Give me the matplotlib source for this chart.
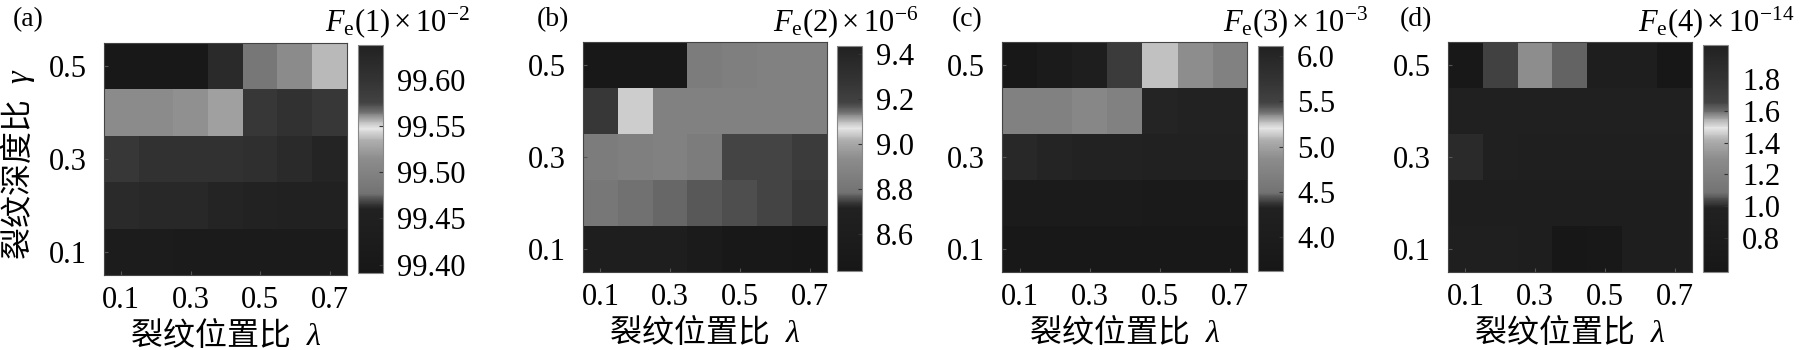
import numpy as np
import matplotlib
matplotlib.use('Agg')
import matplotlib.pyplot as plt
from matplotlib.colors import LinearSegmentedColormap

plt.rcParams['font.family'] = ['Liberation Serif', 'Noto Sans CJK SC']
plt.rcParams['mathtext.fontset'] = 'custom'
plt.rcParams['mathtext.rm'] = 'Liberation Serif'
plt.rcParams['mathtext.it'] = 'Liberation Serif:italic'

# crack position ratio (columns) and crack depth ratio (rows)
lam = [0.1, 0.2, 0.3, 0.4, 0.5, 0.6, 0.7]
gam = [0.1, 0.2, 0.3, 0.4, 0.5]

# rows go from gamma = 0.1 (bottom) to gamma = 0.5 (top)
fe1 = [[99.426, 99.426, 99.425, 99.424, 99.423, 99.422, 99.422],
       [99.618, 99.623, 99.623, 99.629, 99.635, 99.637, 99.637],
       [99.594, 99.603, 99.603, 99.603, 99.608, 99.618, 99.629],
       [99.514, 99.514, 99.517, 99.526, 99.594, 99.603, 99.594],
       [99.405, 99.405, 99.405, 99.618, 99.485, 99.514, 99.537]]
fe2 = [[8.632, 8.632, 8.632, 8.576, 8.492, 8.492, 8.450],
       [8.816, 8.786, 8.778, 8.767, 8.758, 8.751, 8.738],
       [8.846, 8.866, 8.876, 8.846, 8.751, 8.749, 8.742],
       [9.260, 9.047, 8.876, 8.876, 8.876, 8.876, 8.876],
       [8.492, 8.492, 8.492, 8.846, 8.866, 8.876, 8.876]]
fe3 = [[3.769, 3.769, 3.769, 3.769, 3.769, 3.769, 3.769],
       [3.928, 3.928, 3.920, 3.920, 3.910, 3.910, 3.910],
       [5.962, 6.024, 6.086, 6.086, 6.100, 6.105, 6.111],
       [4.722, 4.722, 4.796, 4.722, 6.024, 6.086, 6.086],
       [3.769, 3.977, 4.116, 5.595, 5.121, 4.871, 4.722]]
fe4 = [[0.938, 0.938, 0.868, 0.600, 0.670, 0.868, 0.868],
       [0.868, 0.868, 0.868, 0.868, 0.868, 0.868, 0.868],
       [1.896, 0.981, 0.938, 0.938, 0.938, 0.938, 0.938],
       [0.981, 0.981, 0.981, 0.981, 0.981, 0.981, 0.981],
       [0.670, 1.658, 1.300, 1.609, 0.868, 0.868, 0.600]]

clims = [(99.391, 99.6375), (8.436, 9.437), (3.630, 6.111), (0.59, 2.01)]
cticks = [[99.40, 99.45, 99.50, 99.55, 99.60],
          [8.6, 8.8, 9.0, 9.2, 9.4],
          [4.0, 4.5, 5.0, 5.5, 6.0],
          [0.8, 1.0, 1.2, 1.4, 1.6, 1.8]]
cfmt = ['%.2f', '%.1f', '%.1f', '%.1f']
titles = [r'$F_{\rm e}(1)\times10^{-2}$', r'$F_{\rm e}(2)\times10^{-6}$',
          r'$F_{\rm e}(3)\times10^{-3}$', r'$F_{\rm e}(4)\times10^{-14}$']
letters = ['(a)', '(b)', '(c)', '(d)']
xlab = '裂纹位置比  λ'
ylab = '裂纹深度比  γ'

# gray map: dark at both ends, bright band a bit above the middle
nodes = [(0.00, 0.09), (0.28, 0.13), (0.31, 0.25), (0.35, 0.45), (0.50, 0.55),
         (0.58, 0.68), (0.635, 0.90), (0.67, 0.70), (0.71, 0.42), (0.75, 0.26),
         (0.85, 0.20), (1.00, 0.13)]
cmap = LinearSegmentedColormap.from_list('crack_gray', [(p, (g, g, g)) for p, g in nodes])

W, H = 1809, 350
fig = plt.figure(figsize=(W / 100, H / 100), dpi=100)


def box(x0, x1, y0, y1):
    return [x0 / W, 1 - y1 / H, (x1 - x0) / W, (y1 - y0) / H]


ax_px = [(104, 347, 43, 275), (583, 827, 42, 272), (1002, 1247, 42, 272), (1448, 1692, 42, 272)]
cb_px = [(358, 383, 45, 273), (837, 862, 46, 271), (1258, 1283, 46, 271), (1703, 1728, 45, 272)]
title_x = [325, 773, 1223, 1638]
letter_x = [13, 537, 952, 1400]

data = [fe1, fe2, fe3, fe4]
for i in range(4):
    ax = fig.add_axes(box(*ax_px[i]))
    im = ax.imshow(np.array(data[i]), cmap=cmap, origin='lower', aspect='auto',
                   interpolation='nearest', vmin=clims[i][0], vmax=clims[i][1],
                   extent=[lam[0] - 0.05, lam[-1] + 0.05, gam[0] - 0.05, gam[-1] + 0.05])
    ax.set_xticks([0.1, 0.3, 0.5, 0.7])
    ax.set_yticks([0.1, 0.3, 0.5])
    ax.set_xticklabels(['0.1', '0.3', '0.5', '0.7'])
    ax.set_yticklabels(['0.1', '0.3', '0.5'])
    ax.tick_params(direction='in', length=3, width=0.8, color='#555555', labelsize=22, pad=8)
    ax.tick_params(axis='y', pad=12)
    for s in ax.spines.values():
        s.set_color('#444444')
        s.set_linewidth(0.8)
    ax.set_xlabel(xlab, fontsize=23, style='italic', labelpad=5)

    cax = fig.add_axes(box(*cb_px[i]))
    cb = fig.colorbar(im, cax=cax, ticks=cticks[i], format=cfmt[i])
    cb.outline.set_edgecolor('#888888')
    cb.outline.set_linewidth(0.8)
    cax.tick_params(direction='in', length=3, width=0.8, color='#333333', labelsize=22, pad=10)

    fig.text(title_x[i] / W, 1 - 31 / H, titles[i], fontsize=22, ha='left', va='baseline')
    fig.text(letter_x[i] / W, 1 - 26 / H, letters[i], fontsize=20, ha='left', va='baseline')

fig.text(18 / W, 1 - 165 / H, ylab, fontsize=23, style='italic', rotation=90,
         ha='center', va='center')

fig.savefig('out.png', dpi=100)
